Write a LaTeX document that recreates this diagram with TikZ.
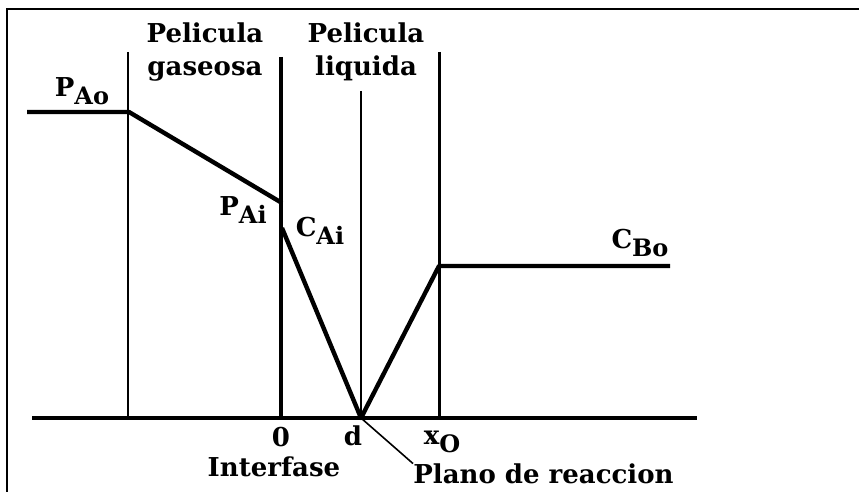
\documentclass[tikz,border=0pt]{standalone}
\usepackage{fontspec}
\setmainfont{DejaVu Serif}
\usetikzlibrary{positioning}

\tikzset{
  lbl/.style={font=\bfseries\fontsize{13}{16.5}\selectfont, inner sep=0pt, align=center},
  wall/.style={line width=1pt},
  profile/.style={line width=2.2pt, line join=round},
}
\newcommand{\sub}[1]{\raisebox{-0.55ex}{\fontsize{12}{12}\selectfont #1}}

\begin{document}
\begin{tikzpicture}[x=0.5pt, y=-0.5pt]
  \useasboundingbox (0,0) rectangle (859,492);

  % frame
  \draw[line width=1.4pt] (7,492) -- (7,9) -- (859,9);

  % axis and film boundaries
  \coordinate (o) at (32,418);
  \coordinate (e) at (697,418);
  \draw[line width=2pt] (o) -- (e);
  \draw[wall] (128,52) -- (128,418);
  \draw[line width=2pt] (281,57) -- (281,418);
  \draw[wall] (361,91) -- (361,418);
  \draw[line width=1.5pt] (439,52) -- (439,418);

  % concentration profile
  \coordinate (pl) at (27,112);
  \coordinate (ao) at (129,112);
  \coordinate (ai) at (282,203);
  \coordinate (ci) at (282,228);
  \coordinate (d)  at (361,418);
  \coordinate (xo) at (439,266);
  \coordinate (bo) at (670,266);
  \draw[profile] (pl) -- (ao) -- (ai);
  \draw[profile] (ci) -- (d) -- (xo) -- (bo);

  % labels
  \node[lbl, anchor=north] (gas) at (205,22) {Pelicula\\gaseosa};
  \node[lbl, anchor=north] (liq) at (366,22) {Pelicula\\liquida};
  \node[lbl] (pao) at (82,91) {P\sub{Ao}};
  \node[lbl] (pai) at (243,210) {P\sub{Ai}};
  \node[lbl] (cai) at (320,231) {C\sub{Ai}};
  \node[lbl] (cbo) at (640,243) {C\sub{Bo}};
  \node[lbl] (zero) at (281,437) {0};
  \node[lbl] (dd) at (353,436) {d};
  \node[lbl] (xx) at (442,442) {x\sub{O}};
  \node[lbl] (inter) at (274,467) {Interfase};
  \node[lbl, anchor=west] (plano) at (413,474) {Plano de reaccion};
  \draw[line width=0.8pt] (d) -- (plano.north west);
\end{tikzpicture}
\end{document}
